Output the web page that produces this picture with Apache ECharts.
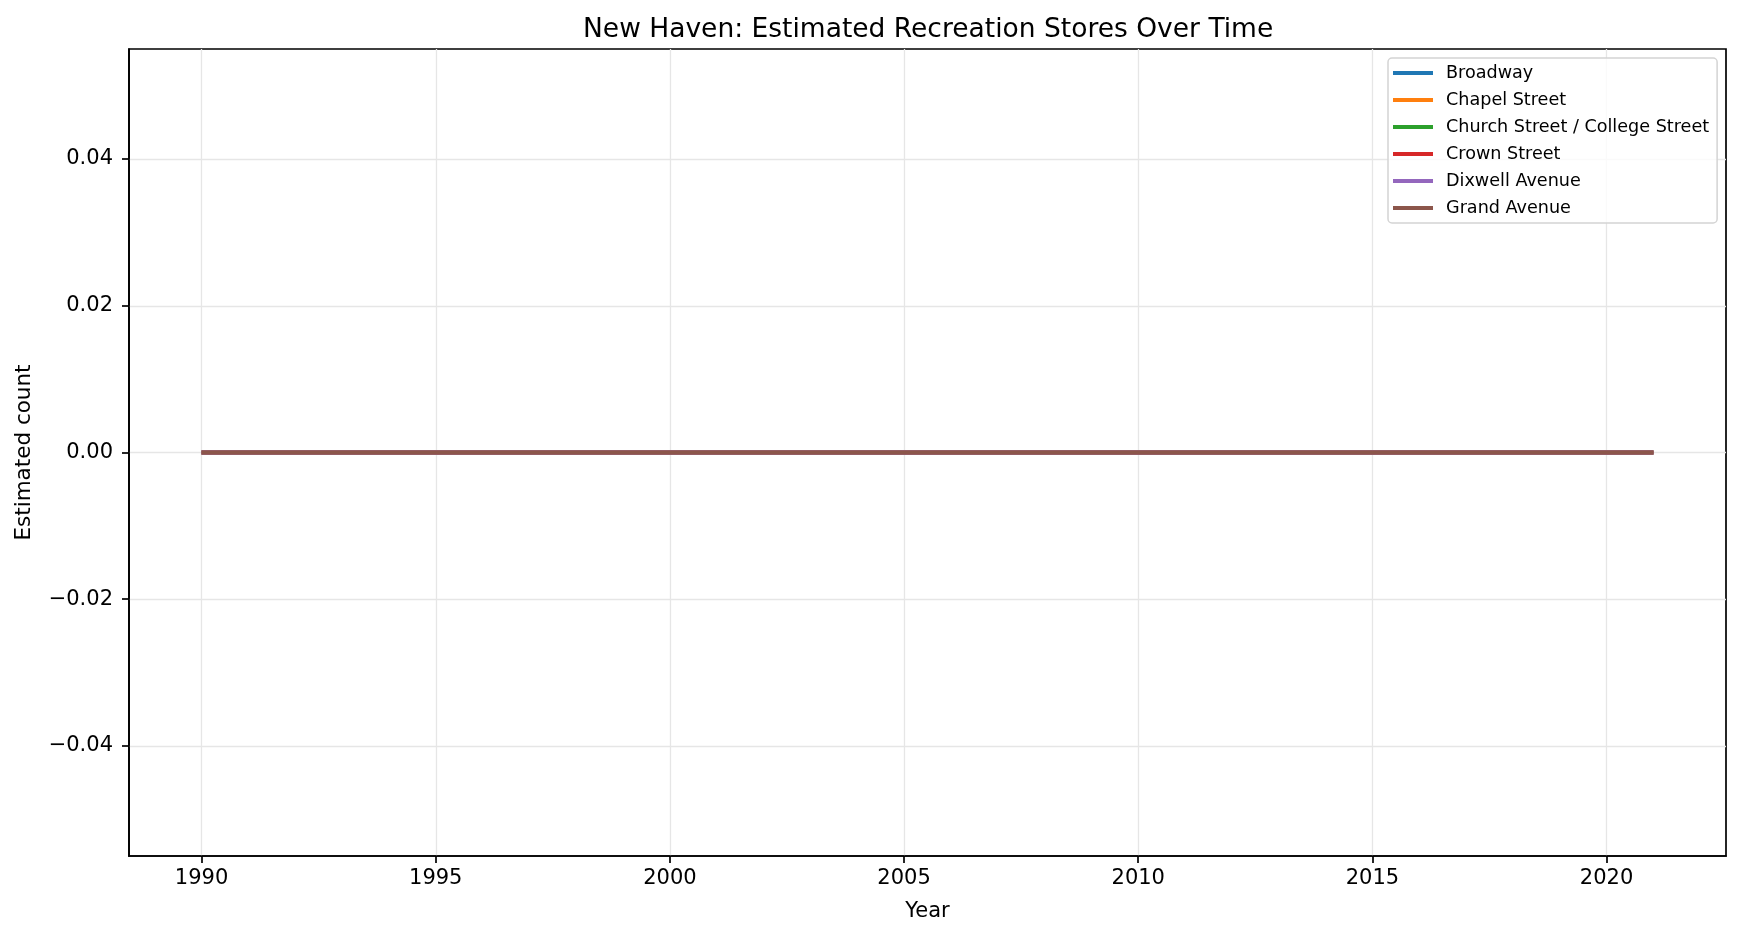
<!DOCTYPE html>
<html>
<head>
    <meta charset="utf-8">
    <title>New Haven recreation stores</title>
    <style>
        html, body { margin: 0; padding: 0; background: #fff; }
        #container { width: 1742px; height: 936px; }
    </style>
</head>
<body>
<div id="container"></div>
<script src="https://cdn.jsdelivr.net/npm/echarts@6/dist/echarts.min.js"></script>
<script type="text/javascript">
    // data: every street sits at 0 for the whole span
    var years = [1990, 1991, 1992, 1993, 1994, 1995, 1996, 1997, 1998, 1999, 2000, 2001, 2002, 2003, 2004, 2005,
                 2006, 2007, 2008, 2009, 2010, 2011, 2012, 2013, 2014, 2015, 2016, 2017, 2018, 2019, 2020, 2021];
    var streets = ['Broadway', 'Chapel Street', 'Church Street / College Street', 'Crown Street', 'Dixwell Avenue', 'Grand Avenue'];
    var broadway    = [0,0,0,0,0,0,0,0,0,0,0,0,0,0,0,0,0,0,0,0,0,0,0,0,0,0,0,0,0,0,0,0];
    var chapel      = [0,0,0,0,0,0,0,0,0,0,0,0,0,0,0,0,0,0,0,0,0,0,0,0,0,0,0,0,0,0,0,0];
    var churchCollege = [0,0,0,0,0,0,0,0,0,0,0,0,0,0,0,0,0,0,0,0,0,0,0,0,0,0,0,0,0,0,0,0];
    var crown       = [0,0,0,0,0,0,0,0,0,0,0,0,0,0,0,0,0,0,0,0,0,0,0,0,0,0,0,0,0,0,0,0];
    var dixwell     = [0,0,0,0,0,0,0,0,0,0,0,0,0,0,0,0,0,0,0,0,0,0,0,0,0,0,0,0,0,0,0,0];
    var grand       = [0,0,0,0,0,0,0,0,0,0,0,0,0,0,0,0,0,0,0,0,0,0,0,0,0,0,0,0,0,0,0,0];
    var xTicks = [1990, 1995, 2000, 2005, 2010, 2015, 2020];
    var yTicks = [-0.04, -0.02, 0, 0.02, 0.04];

    var allValues = [broadway, chapel, churchCollege, crown, dixwell, grand];
    var colors = ['#1f77b4', '#ff7f0e', '#2ca02c', '#d62728', '#9467bd', '#8c564b'];
    var font = 'DejaVu Sans';

    var myChart = echarts.init(document.getElementById('container'));

    var series = streets.map(function (name, i) {
        return {
            name: name,
            type: 'line',
            showSymbol: false,
            data: years.map(function (y, k) { return [y, allValues[i][k]]; }),
            lineStyle: { width: 4, color: colors[i] },
            itemStyle: { color: colors[i] },
            silent: true
        };
    });

    var option = {
        animation: false,
        backgroundColor: '#fff',
        title: {
            text: 'New Haven: Estimated Recreation Stores Over Time',
            left: 578,   // centred over the plot area, not the page
            top: 12,
            padding: 5,
            textStyle: { fontFamily: font, fontSize: 26.5, fontWeight: 'normal', color: '#000' }
        },
        legend: {
            data: streets,
            orient: 'vertical',
            left: 1388,
            top: 58,
            icon: 'rect',
            itemWidth: 40,
            itemHeight: 3.8,
            itemGap: 7,
            padding: [5, 8, 5, 5],
            backgroundColor: 'rgba(255,255,255,0.8)',
            borderColor: '#d4d4d4',
            borderWidth: 1.5,
            borderRadius: 4,
            textStyle: { fontFamily: font, fontSize: 17.6, color: '#000', lineHeight: 20, padding: [0, 0, 0, 8] }
        },
        grid: {
            left: 129,
            right: 16,
            top: 49,
            bottom: 80,
            show: true,
            borderColor: '#000',
            borderWidth: 1.7
        },
        xAxis: {
            type: 'value',
            min: 1988.45,
            max: 2022.55,
            name: 'Year',
            nameLocation: 'middle',
            nameGap: 45,
            nameTextStyle: { fontFamily: font, fontSize: 21, color: '#000' },
            axisLine: { show: true, onZero: false, lineStyle: { color: '#000', width: 1.7 } },
            axisTick: { show: true, inside: false, length: 7, customValues: xTicks, lineStyle: { color: '#000', width: 1.7 } },
            axisLabel: { customValues: xTicks, margin: 12, fontFamily: font, fontSize: 21, color: '#000',
                formatter: function (v) { return String(v); } },
            splitLine: { show: true, lineStyle: { color: '#e6e6e6', width: 1.3 } }
        },
        yAxis: {
            type: 'value',
            min: -0.055,
            max: 0.055,
            name: 'Estimated count',
            nameLocation: 'middle',
            nameGap: 94,
            nameTextStyle: { fontFamily: font, fontSize: 21.5, color: '#000' },
            axisLine: { show: true, onZero: false, lineStyle: { color: '#000', width: 1.7 } },
            axisTick: { show: true, inside: false, length: 7, customValues: yTicks, lineStyle: { color: '#000', width: 1.7 } },
            axisLabel: { customValues: yTicks, margin: 16, fontFamily: font, fontSize: 21, color: '#000',
                formatter: function (v) {
                    var s = Math.abs(v).toFixed(2);
                    return (v < -1e-9 ? '\u2212' : '') + s;
                } },
            splitLine: { show: true, lineStyle: { color: '#e6e6e6', width: 1.3 } }
        },
        series: series
    };

    myChart.setOption(option, true);
</script>
</body>
</html>
